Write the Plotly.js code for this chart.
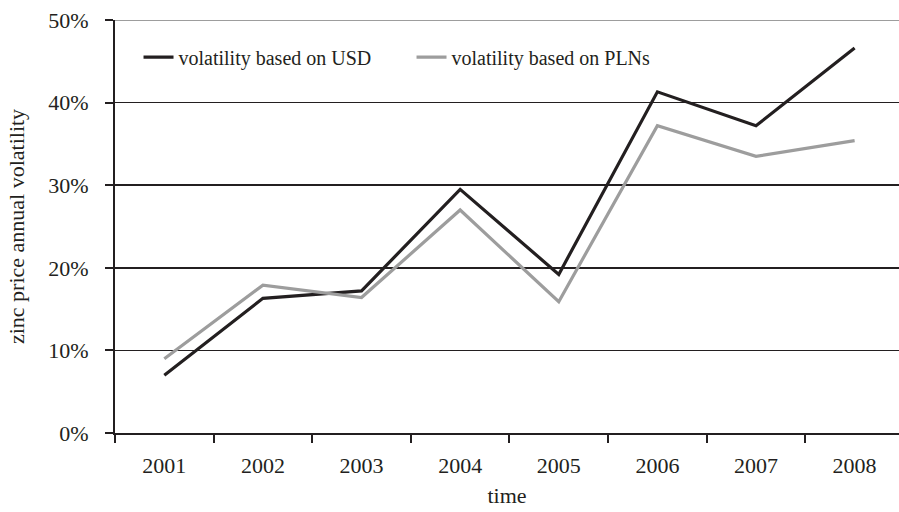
<!DOCTYPE html>
<html>
<head>
<meta charset="utf-8">
<script src="https://cdn.plot.ly/plotly-3.0.1.min.js"></script>
<style>html,body{margin:0;padding:0;background:#fff;}#chart{width:899px;height:512px;}</style>
</head>
<body>
<div id="chart"></div>
<script>
var years = ["2001","2002","2003","2004","2005","2006","2007","2008"];
var volUSD = [0.070, 0.163, 0.172, 0.295, 0.192, 0.413, 0.372, 0.466];
var volPLN = [0.090, 0.179, 0.164, 0.270, 0.159, 0.372, 0.335, 0.354];
var yTicks = [0, 0.1, 0.2, 0.3, 0.4, 0.5];
var yTickText = ["0%","10%","20%","30%","40%","50%"];

var FONT = "'Liberation Serif', 'Times New Roman', serif";
var data = [
  {x: years, y: volUSD, type: "scatter", mode: "lines", name: "volatility based on USD",
   line: {color: "#231f20", width: 3.2}},
  {x: years, y: volPLN, type: "scatter", mode: "lines", name: "volatility based on PLNs",
   line: {color: "#9d9d9d", width: 3.2}}
];
var layout = {
  width: 899, height: 512,
  margin: {l: 115, r: 0, t: 20, b: 79},
  paper_bgcolor: "#fff", plot_bgcolor: "#fff",
  font: {family: FONT, size: 20, color: "#231f20"},
  showlegend: true,
  legend: {orientation: "h", x: 0.03, y: 0.91, xanchor: "left", yanchor: "middle",
           bgcolor: "rgba(0,0,0,0)", font: {family: FONT, size: 20, color: "#231f20"},
           entrywidth: 228, entrywidthmode: "pixels"},
  xaxis: {
    type: "category", range: [-0.5, 7.45],
    showgrid: false, zeroline: false,
    showline: true, linecolor: "#231f20", linewidth: 2,
    ticks: "outside", tickson: "boundaries", ticklen: 8, tickwidth: 2, tickcolor: "#231f20",
    ticklabelstandoff: 12,
    tickfont: {family: FONT, size: 22, color: "#231f20"},
    title: {text: "time", font: {family: FONT, size: 22, color: "#231f20"}, standoff: 10}
  },
  yaxis: {
    range: [0, 0.5], tickvals: yTicks, ticktext: yTickText,
    showgrid: true, gridcolor: "#231f20", gridwidth: 1.6,
    zeroline: false,
    showline: true, linecolor: "#231f20", linewidth: 2,
    ticks: "outside", ticklen: 8, tickwidth: 2, tickcolor: "#231f20",
    ticklabelstandoff: 12,
    tickfont: {family: FONT, size: 22, color: "#231f20"},
    title: {text: "zinc price annual volatility", font: {family: FONT, size: 22, color: "#231f20"}, standoff: 18}
  },
  shapes: [
    {type: "line", xref: "paper", yref: "y", x0: 0, x1: 1, y0: 0.5, y1: 0.5,
     line: {color: "#9d9d9d", width: 2}, layer: "above"}
  ]
};
Plotly.newPlot("chart", data, layout, {displayModeBar: false, staticPlot: true});
</script>
</body>
</html>
